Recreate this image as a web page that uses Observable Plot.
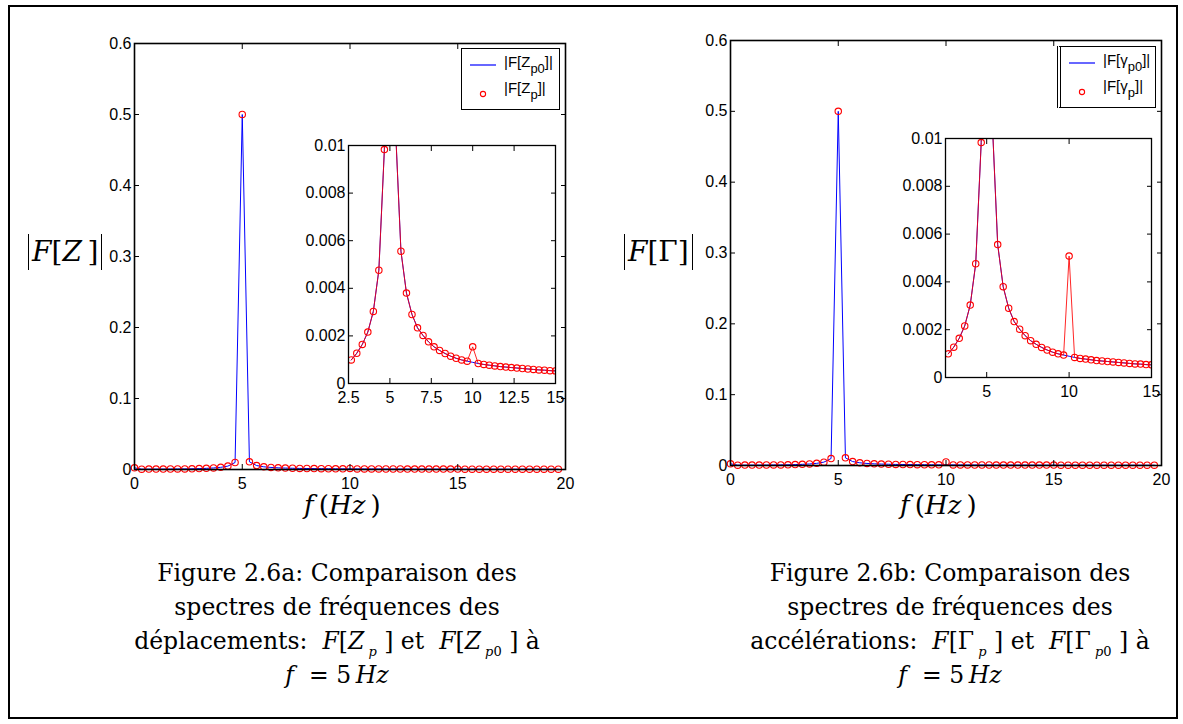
<!DOCTYPE html>
<html><head><meta charset="utf-8">
<script src="https://cdn.jsdelivr.net/npm/d3@7"></script>
<script src="https://cdn.jsdelivr.net/npm/@observablehq/plot@0.6"></script>
<style>
body{margin:0;background:#fff;}
#page{position:relative;width:1183px;height:724px;overflow:hidden;background:#fff;}
#border{position:absolute;left:8px;top:5px;width:1170px;height:714px;border:2px solid #000;box-sizing:border-box;}
.cap{position:absolute;font-family:"DejaVu Serif",serif;font-size:23.5px;line-height:34px;text-align:center;color:#000;white-space:nowrap;}
.cap sub{font-size:13px;vertical-align:-7px;line-height:0;}
.xlab{position:absolute;font-family:"DejaVu Serif",serif;font-size:26px;color:#000;white-space:nowrap;}
.ylab{position:absolute;font-family:"DejaVu Serif",serif;font-size:28px;color:#000;white-space:nowrap;border-left:1.6px solid #000;border-right:1.6px solid #000;padding:1px 3px;line-height:34px;}
.leg{position:absolute;background:#fff;border:1.5px solid #000;box-sizing:border-box;font-family:"Liberation Sans",Arial,sans-serif;font-size:15px;color:#000;}
.leg sub{font-size:13px;vertical-align:-6px;line-height:0;}
.leg .t{position:absolute;left:42px;white-space:nowrap;}
</style>
</head><body>
<div id="page">
  <div id="border"></div>
</div>
<script>
// ---- data ----
const freq = [0,0.333,0.667,1,1.333,1.667,2,2.333,2.667,3,3.333,3.667,4,4.333,4.667,5,5.333,5.667,6,6.333,6.667,7,7.333,7.667,8,8.333,8.667,9,9.333,9.667,10,10.333,10.667,11,11.333,11.667,12,12.333,12.667,13,13.333,13.667,14,14.333,14.667,15,15.333,15.667,16,16.333,16.667,17,17.333,17.667,18,18.333,18.667,19,19.333,19.667];
// |F[Z_p0]| (and |F[gamma_p0]|)
const ampRef = [0.0024,0.0005,0.00053,0.00057,0.00062,0.00068,0.00076,0.00086,0.00099,0.00127,0.00164,0.00216,0.00303,0.00476,0.00983,0.5,0.0108,0.00556,0.0038,0.0029,0.00234,0.00202,0.00175,0.00154,0.00139,0.00126,0.00115,0.00106,0.00099,0.00094,0.00089,0.00084,0.0008,0.00077,0.00074,0.00071,0.00069,0.00067,0.00065,0.00063,0.00061,0.00059,0.00057,0.00056,0.00054,0.00053,0.00051,0.0005,0.00049,0.00048,0.00047,0.00046,0.00045,0.00044,0.00043,0.00042,0.00041,0.00041,0.0004,0.00039];
// |F[Z_p]|
const ampZp = [0.0024,0.0005,0.00053,0.00057,0.00062,0.00068,0.00076,0.00086,0.00099,0.00127,0.00164,0.00216,0.00303,0.00476,0.00983,0.5,0.0108,0.00556,0.0038,0.0029,0.00234,0.00202,0.00175,0.00154,0.00139,0.00126,0.00115,0.00106,0.00099,0.00094,0.00154,0.00084,0.0008,0.00077,0.00074,0.00071,0.00069,0.00067,0.00065,0.00063,0.00061,0.00059,0.00057,0.00056,0.00054,0.00053,0.00051,0.0005,0.00049,0.00048,0.00047,0.00046,0.00045,0.00044,0.00043,0.00042,0.00041,0.00041,0.0004,0.00039];
// |F[gamma_p]|
const ampGp = [0.0024,0.0005,0.00053,0.00057,0.00062,0.00068,0.00076,0.00086,0.00099,0.00127,0.00164,0.00216,0.00303,0.00476,0.00983,0.5,0.0108,0.00556,0.0038,0.0029,0.00234,0.00202,0.00175,0.00154,0.00139,0.00126,0.00115,0.00106,0.00099,0.00094,0.00508,0.00084,0.0008,0.00077,0.00074,0.00071,0.00069,0.00067,0.00065,0.00063,0.00061,0.00059,0.00057,0.00056,0.00054,0.00053,0.00051,0.0005,0.00049,0.00048,0.00047,0.00046,0.00045,0.00044,0.00043,0.00042,0.00041,0.00041,0.0004,0.00039];

const mainXTicks = [0,5,10,15,20];
const mainYTicks = [0,0.1,0.2,0.3,0.4,0.5,0.6];
const insetXTicksA = [2.5,5,7.5,10,12.5,15];
const insetXTicksB = [5,10,15];
const insetYTicks = [0,0.002,0.004,0.006,0.008,0.01];

// ---- helpers ----
const rows = arr => freq.map((f,i) => ({f, v: arr[i]}));
const page = document.getElementById("page");
const BLUE = "#0000ff", RED = "#ff0000";
const fmt = d => String(d);

function place(el, left, top) {
  el.style.position = "absolute";
  el.style.left = left + "px";
  el.style.top = top + "px";
  page.appendChild(el);
}

function axes(xT, yT) {
  return [
    Plot.axisX(xT, {anchor:"bottom", tickSize:-5, tickPadding:13, tickFormat: fmt, label:null, fontSize:16}),
    Plot.axisX(xT, {anchor:"top", tickSize:-5, tickFormat: () => "", label:null}),
    Plot.axisY(yT, {anchor:"left", tickSize:-5, tickPadding:8, tickFormat: fmt, label:null, fontSize:16}),
    Plot.axisY(yT, {anchor:"right", tickSize:-5, tickFormat: () => "", label:null})
  ];
}

const style = {fontFamily:"'Liberation Sans', Arial, sans-serif", fontSize:"16px", color:"#000", background:"transparent", overflow:"visible"};

function mainPlot(ref, meas, fx, fy, fw, fh) {
  const mL = 60, mR = 20, mT = 10, mB = 40;
  const svg = Plot.plot({
    width: fw + mL + mR, height: fh + mT + mB,
    marginLeft: mL, marginRight: mR, marginTop: mT, marginBottom: mB,
    style,
    x: {domain:[0,20], axis:null},
    y: {domain:[0,0.6], axis:null},
    marks: [
      Plot.line(rows(ref), {x:"f", y:"v", stroke:BLUE, strokeWidth:1}),
      Plot.dot(rows(meas), {x:"f", y:"v", r:3.2, stroke:RED, strokeWidth:1.1, fill:"none"}),
      ...axes(mainXTicks, mainYTicks),
      Plot.frame({stroke:"#000", strokeWidth:1.6})
    ]
  });
  place(svg, fx - mL, fy - mT);
}

function insetPlot(ref, meas, xT, fx, fy, fw, fh) {
  const mL = 60, mR = 12, mT = 10, mB = 30;
  const inRange = d => d.f >= 2.5 && d.f <= 15.001;
  const svg = Plot.plot({
    width: fw + mL + mR, height: fh + mT + mB,
    marginLeft: mL, marginRight: mR, marginTop: mT, marginBottom: mB,
    style,
    x: {domain:[2.5,15], axis:null},
    y: {domain:[0,0.01], axis:null},
    marks: [
      Plot.frame({fill:"#fff", stroke:null}),
      Plot.line(rows(ref).filter(inRange), {x:"f", y:"v", stroke:BLUE, strokeWidth:1, clip:true}),
      Plot.line(rows(meas).filter(inRange), {x:"f", y:"v", stroke:RED, strokeWidth:1, strokeOpacity:0.85, clip:true}),
      Plot.dot(rows(meas).filter(inRange), {x:"f", y:"v", r:3.2, stroke:RED, strokeWidth:1.1, fill:"none", clip:true}),
      ...axes(xT, insetYTicks),
      Plot.frame({stroke:"#000", strokeWidth:1.3})
    ]
  });
  place(svg, fx - mL, fy - mT);
}

function legend(left, top, sym, dbl) {
  const d = document.createElement("div");
  d.className = "leg";
  d.style.width = "99px"; d.style.height = "62px";
  if (dbl) d.style.borderLeft = "4px double #000";
  d.innerHTML =
    `<svg width="40" height="60" style="position:absolute;left:0;top:0">
       <line x1="8" x2="34" y1="16" y2="16" stroke="${BLUE}" stroke-width="1.2"/>
       <circle cx="21" cy="45" r="2.6" fill="none" stroke="${RED}" stroke-width="1.1"/>
     </svg>
     <div class="t" style="top:4px">|F[${sym}<sub>p0</sub>]|</div>
     <div class="t" style="top:30px">|F[${sym}<sub>p</sub>]|</div>`;
  place(d, left, top);
}

function html(cls, content, left, top, extra) {
  const d = document.createElement("div");
  d.className = cls;
  d.innerHTML = content;
  if (extra) Object.assign(d.style, extra);
  place(d, left, top);
  return d;
}

// ---- panel a ----
mainPlot(ampRef, ampZp, 134, 43, 431, 426);
insetPlot(ampRef, ampZp, insetXTicksA, 348, 145, 207, 238);
legend(461, 48, "Z", false);
html("ylab", "<i>F</i>[<i>Z</i>&thinsp;]", 28, 234);
html("xlab", "<i>f</i>&thinsp;(<i>Hz</i>&thinsp;)", 304, 490);
html("cap", "Figure 2.6a: Comparaison des<br>spectres de fréquences des<br>déplacements:&nbsp; <i>F</i>[<i>Z</i><sub>&nbsp;<i>p</i></sub>&nbsp;] et&nbsp; <i>F</i>[<i>Z</i><sub>&nbsp;<i>p</i>0</sub>&nbsp;] à<br><i>f</i>&nbsp; =&nbsp;5&thinsp;<i>Hz</i>", 0, 556, {width:"674px"});

// ---- panel b ----
mainPlot(ampRef, ampGp, 730, 40, 431, 425);
insetPlot(ampRef, ampGp, insetXTicksB, 945, 138, 206, 239);
legend(1057, 46, "γ", true);
html("ylab", "<i>F</i>[Γ]", 624, 234);
html("xlab", "<i>f</i>&thinsp;(<i>Hz</i>&thinsp;)", 900, 490);
html("cap", "Figure 2.6b: Comparaison des<br>spectres de fréquences des<br>accélérations:&nbsp; <i>F</i>[Γ<sub>&nbsp;<i>p</i></sub>&nbsp;] et&nbsp; <i>F</i>[Γ<sub>&nbsp;<i>p</i>0</sub>&nbsp;] à<br><i>f</i>&nbsp; =&nbsp;5&thinsp;<i>Hz</i>", 600, 556, {width:"700px"});
</script>
</body></html>
